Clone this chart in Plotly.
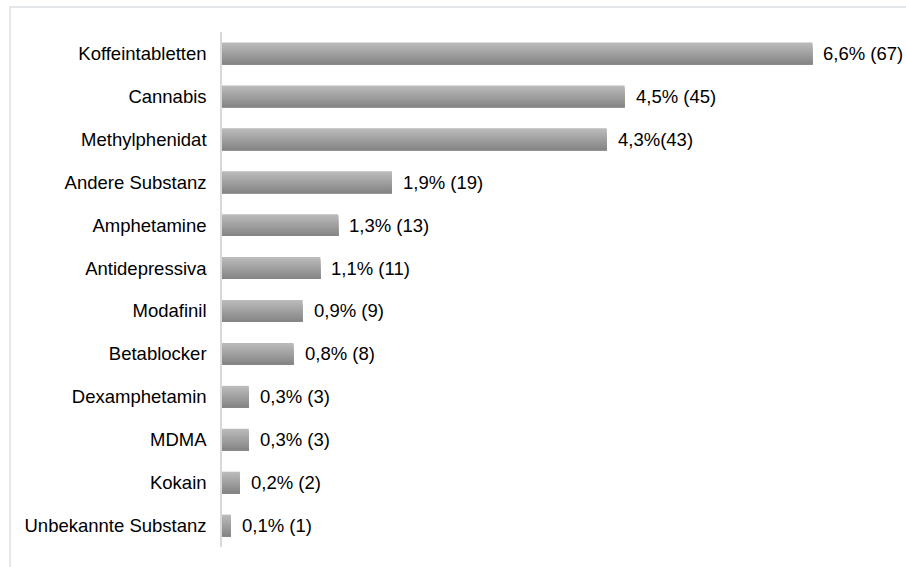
import plotly.graph_objects as go

categories = ["Koffeintabletten", "Cannabis", "Methylphenidat", "Andere Substanz",
              "Amphetamine", "Antidepressiva", "Modafinil", "Betablocker",
              "Dexamphetamin", "MDMA", "Kokain", "Unbekannte Substanz"]
percent = [6.6, 4.5, 4.3, 1.9, 1.3, 1.1, 0.9, 0.8, 0.3, 0.3, 0.2, 0.1]
labels = ["6,6% (67)", "4,5% (45)", "4,3%(43)", "1,9% (19)", "1,3% (13)", "1,1% (11)",
          "0,9% (9)", "0,8% (8)", "0,3% (3)", "0,3% (3)", "0,2% (2)", "0,1% (1)"]

W, H = 906, 567
ML, MR, MT, MB = 222, 13, 32, 20
XMAX = 7.5
FONT = "Liberation Sans, Arial"
FS = 18.5

fig = go.Figure()

# vertical gradient simulated by overlapping layers (light top -> dark bottom)
n = 12
bar_w = 0.51
top = (186, 186, 186)
bot = (134, 134, 134)
for k in range(n):
    t = k / (n - 1)
    c = tuple(int(round(top[i] + (bot[i] - top[i]) * t)) for i in range(3))
    fig.add_trace(go.Bar(
        y=categories, x=percent, orientation="h",
        width=bar_w - k * bar_w / n, offset=-bar_w / 2 + k * bar_w / n,
        marker=dict(color="rgb(%d,%d,%d)" % c, line=dict(width=0)),
        showlegend=False, hoverinfo="skip" if k else "x+y",
    ))

for cat, v, lab in zip(categories, percent, labels):
    fig.add_annotation(x=v, y=cat, text=lab, showarrow=False, xanchor="left",
                       xshift=9, font=dict(family=FONT, size=FS, color="#000"))

pw = W - ML - MR
ph = H - MT - MB
fig.add_shape(type="rect", xref="paper", yref="paper",
              x0=(10 - ML) / pw, x1=(W + 5 - ML) / pw,
              y0=-(MB + 5) / ph, y1=1 + (MT - 7) / ph,
              line=dict(color="#dcdfe3", width=1.5), layer="below")

fig.update_layout(
    width=W, height=H,
    margin=dict(l=ML, r=MR, t=MT, b=MB),
    barmode="overlay",
    plot_bgcolor="white", paper_bgcolor="white",
    font=dict(family=FONT, size=FS, color="#000"),
    xaxis=dict(range=[0, XMAX], visible=False, showgrid=False, zeroline=False),
    yaxis=dict(autorange="reversed", type="category", showgrid=False, zeroline=False,
               showline=True, linecolor="#d5d9de", linewidth=1.5, ticks="",
               ticklabelstandoff=10, tickfont=dict(size=FS)),
)

fig.write_html("out.html", config={"displayModeBar": False},
               post_script="document.body.style.margin='0';document.body.style.overflow='hidden';")
